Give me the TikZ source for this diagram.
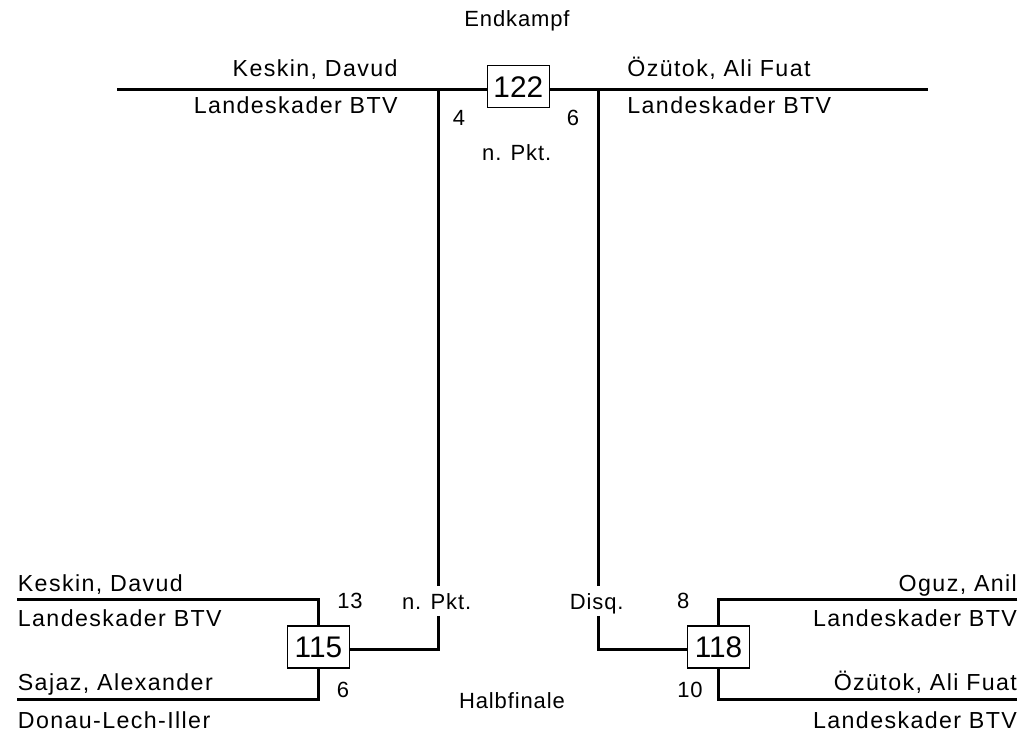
\documentclass[tikz,border=0pt]{standalone}
\usepackage{fontspec}
\setmainfont[LetterSpace=6]{Liberation Sans}
\newfontfamily\smallfnt[LetterSpace=4]{Liberation Sans}
\newfontfamily\boxfnt{Liberation Sans}
\usetikzlibrary{positioning}
\tikzset{
         bline/.style={line width=1.5pt},
         numbox/.style={draw,line width=0.6pt,minimum width=31pt,minimum height=21pt,inner sep=0pt,
                        font=\boxfnt\fontsize{14.9}{16}\selectfont},
         fname/.style={inner sep=0pt,font=\fontsize{11.6}{13}\selectfont},
         small/.style={inner sep=0pt,font=\smallfnt\fontsize{11}{12}\selectfont},
         cut/.style={small,inner xsep=0pt,inner ysep=3.2pt,text height=7.9pt,text depth=0pt}
        }
\begin{document}
\begin{tikzpicture}[x=0.5pt,y=-0.5pt]
\useasboundingbox (0,0) rectangle (1023,736);
%boxes
\node[numbox](b122) at(518.3,86.7){122};
\node[numbox](b115) at(318.5,647){115};
\node[numbox](b118) at(718.5,647){118};
%end points
\coordinate(tl) at(117.3,89.3);
\coordinate(tr) at(928,89.3);
\coordinate(lv) at(438.3,89.3);
\coordinate(rv) at(598,89.3);
\coordinate(j1) at(438.3,649.3);
\coordinate(j2) at(598,649.3);
\coordinate(a1) at(17.3,599.3);
\coordinate(a2) at(318.3,599.3);
\coordinate(a3) at(318.3,699);
\coordinate(a4) at(17.3,699);
\coordinate(c1) at(1017.3,599.3);
\coordinate(c2) at(718.3,599.3);
\coordinate(c3) at(718.3,699);
\coordinate(c4) at(1017.3,699);
%results on the lines
\node[cut,anchor=base](lres) at(436.7,609){n. Pkt.};
\node[cut,anchor=base](rres) at(596.7,609){Disq.};
%lines
\draw[bline](tl)--(b122.west |- tl);
\draw[bline](b122.east |- tr)--(tr);
\draw[bline](lv)--(lv |- lres.north);
\draw[bline](lv |- lres.south)--(j1)--(b115.east |- j1);
\draw[bline](rv)--(rv |- rres.north);
\draw[bline](rv |- rres.south)--(j2)--(b118.west |- j2);
\draw[bline](a1)--(a2)--(a2 |- b115.north);
\draw[bline](a3 |- b115.south)--(a3)--(a4);
\draw[bline](c1)--(c2)--(c2 |- b118.north);
\draw[bline](c3 |- b118.south)--(c3)--(c4);
%Endkampf
\node[small,anchor=base](final) at(517,26.7){Endkampf};
\node[fname,anchor=base east](f1) at(398,76){Keskin, Davud};
\node[fname,anchor=base east](f1c) at(398,113.3){Landeskader BTV};
\node[fname,anchor=base west](f2) at(627,76){Özütok, Ali Fuat};
\node[fname,anchor=base west](f2c) at(627,113.3){Landeskader BTV};
\node[small,anchor=base](fs1) at(459,125.5){4};
\node[small,anchor=base](fs2) at(573,125.5){6};
\node[small,anchor=base](fres) at(516.7,160){n. Pkt.};
%Halbfinale
\node[small,anchor=base](semi) at(512,708.3){Halbfinale};
\node[fname,anchor=base west](s1) at(17.5,591){Keskin, Davud};
\node[fname,anchor=base west](s1c) at(17.5,626.5){Landeskader BTV};
\node[fname,anchor=base west](s2) at(17.5,690.5){Sajaz, Alexander};
\node[fname,anchor=base west](s2c) at(17.5,728.3){Donau-Lech-Iller};
\node[fname,anchor=base east](s3) at(1017.3,591){Oguz, Anil};
\node[fname,anchor=base east](s3c) at(1017.3,626.5){Landeskader BTV};
\node[fname,anchor=base east](s4) at(1017.3,690.5){Özütok, Ali Fuat};
\node[fname,anchor=base east](s4c) at(1017.3,728.3){Landeskader BTV};
\node[small,anchor=base](ss1) at(350,608.5){13};
\node[small,anchor=base](ss2) at(343,697.5){6};
\node[small,anchor=base](ss3) at(683.3,608){8};
\node[small,anchor=base](ss4) at(690,697.5){10};
\end{tikzpicture}
\end{document}
